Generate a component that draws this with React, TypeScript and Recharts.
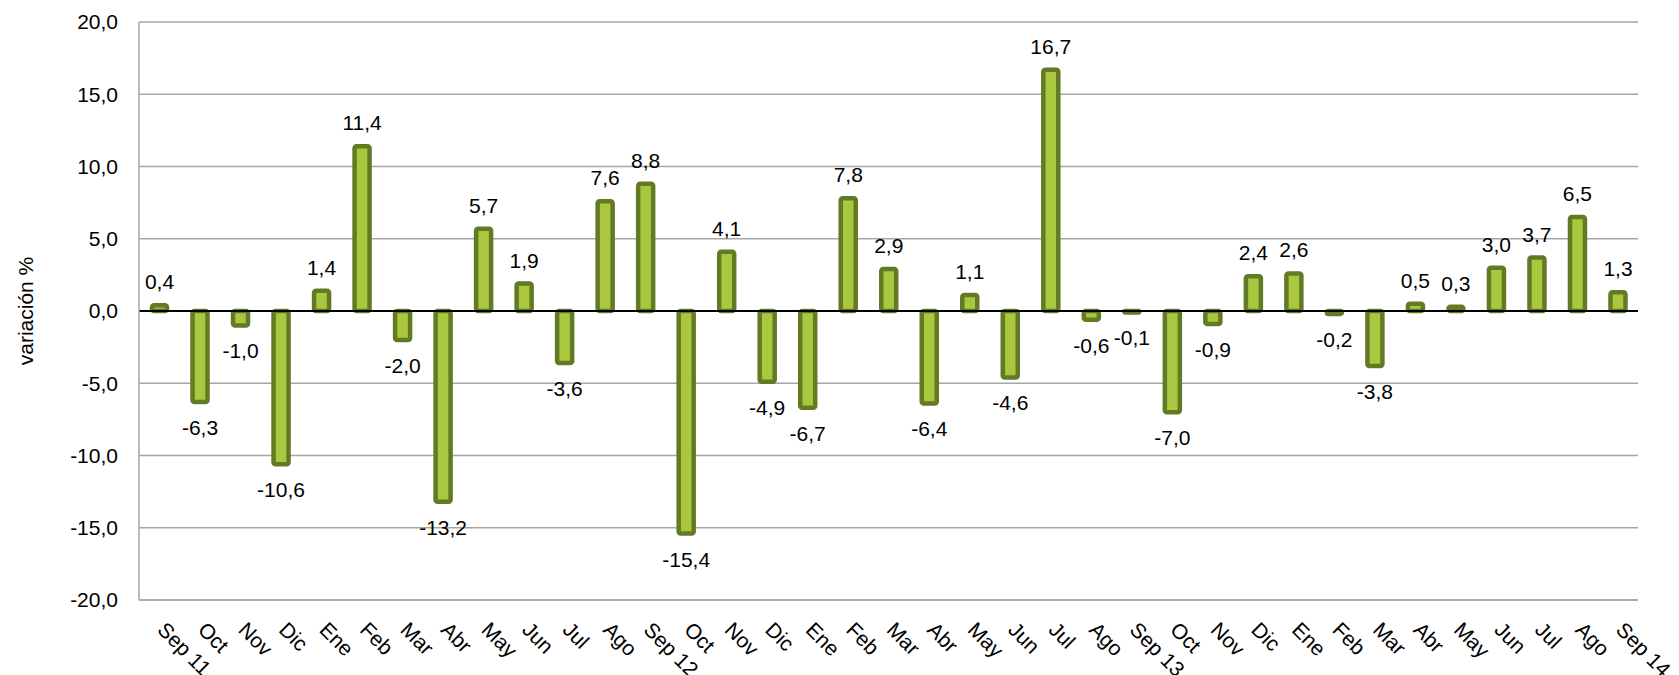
import {
  Bar,
  BarChart,
  CartesianGrid,
  LabelList,
  ReferenceLine,
  XAxis,
  YAxis,
} from "recharts";

const meses = [
  "Sep 11", "Oct", "Nov", "Dic", "Ene", "Feb", "Mar", "Abr", "May", "Jun", "Jul", "Ago",
  "Sep 12", "Oct", "Nov", "Dic", "Ene", "Feb", "Mar", "Abr", "May", "Jun", "Jul", "Ago",
  "Sep 13", "Oct", "Nov", "Dic", "Ene", "Feb", "Mar", "Abr", "May", "Jun", "Jul", "Ago",
  "Sep 14",
];

const variacion = [
  0.4, -6.3, -1.0, -10.6, 1.4, 11.4, -2.0, -13.2, 5.7, 1.9, -3.6, 7.6,
  8.8, -15.4, 4.1, -4.9, -6.7, 7.8, 2.9, -6.4, 1.1, -4.6, 16.7, -0.6,
  -0.1, -7.0, -0.9, 2.4, 2.6, -0.2, -3.8, 0.5, 0.3, 3.0, 3.7, 6.5,
  1.3,
];

const ticksY = [-20, -15, -10, -5, 0, 5, 10, 15, 20];

const datos = meses.map((mes, i) => ({ id: i, mes, valor: variacion[i] }));

const FUENTE = "'Liberation Sans', Arial, sans-serif";
const fmt = (v: number) => v.toFixed(1).replace(".", ",");

function TickMes(props: any) {
  const { x, y, payload } = props;
  const px = x - 3;
  const py = y + 23;
  return (
    <text
      x={px}
      y={py}
      transform={`rotate(45, ${px}, ${py})`}
      textAnchor="start"
      fontSize={21}
      fontFamily={FUENTE}
      fill="#000"
    >
      {datos[payload.index]?.mes ?? payload.value}
    </text>
  );
}

function Etiqueta(props: any) {
  const { x, y, width, height, value } = props;
  const arriba = Math.min(y, y + height);
  const abajo = Math.max(y, y + height);
  const cy = value >= 0 ? arriba - 16 : abajo + 33;
  return (
    <text
      x={x + width / 2}
      y={cy}
      textAnchor="middle"
      fontSize={21}
      fontFamily={FUENTE}
      fill="#000"
    >
      {fmt(value)}
    </text>
  );
}

function TituloY(props: any) {
  const { viewBox } = props;
  const cx = 25;
  const cy = viewBox.y + viewBox.height / 2;
  return (
    <text
      x={cx}
      y={cy}
      transform={`rotate(-90, ${cx}, ${cy})`}
      textAnchor="middle"
      dominantBaseline="central"
      fontSize={21}
      fontFamily={FUENTE}
      fill="#000"
    >
      variación %
    </text>
  );
}

export default function App() {
  return (
    <div style={{ position: "absolute", left: 0, top: 0, background: "#fff" }}>
      <BarChart
        width={1679}
        height={675}
        data={datos}
        margin={{ top: 22, right: 41, bottom: 0, left: 0 }}
        barSize={15}
      >
        <CartesianGrid vertical={false} stroke="#a6a6a6" strokeWidth={1.5} />
        <XAxis
          dataKey="id"
          interval={0}
          tickLine={false}
          axisLine={{ stroke: "#a6a6a6", strokeWidth: 1.5 }}
          height={75}
          tick={<TickMes />}
        />
        <YAxis
          width={139}
          domain={[-20, 20]}
          ticks={ticksY}
          tickFormatter={fmt}
          tickLine={false}
          tickMargin={15}
          axisLine={{ stroke: "#a6a6a6", strokeWidth: 1.5 }}
          tick={{ fontSize: 21, fontFamily: FUENTE, fill: "#000" }}
          label={<TituloY />}
        />
        <ReferenceLine y={0} stroke="#000" strokeWidth={2} />
        <Bar
          dataKey="valor"
          fill="#A9C840"
          stroke="#637A24"
          strokeWidth={4.5}
          radius={2}
          isAnimationActive={false}
        >
          <LabelList dataKey="valor" content={<Etiqueta />} />
        </Bar>
      </BarChart>
    </div>
  );
}
